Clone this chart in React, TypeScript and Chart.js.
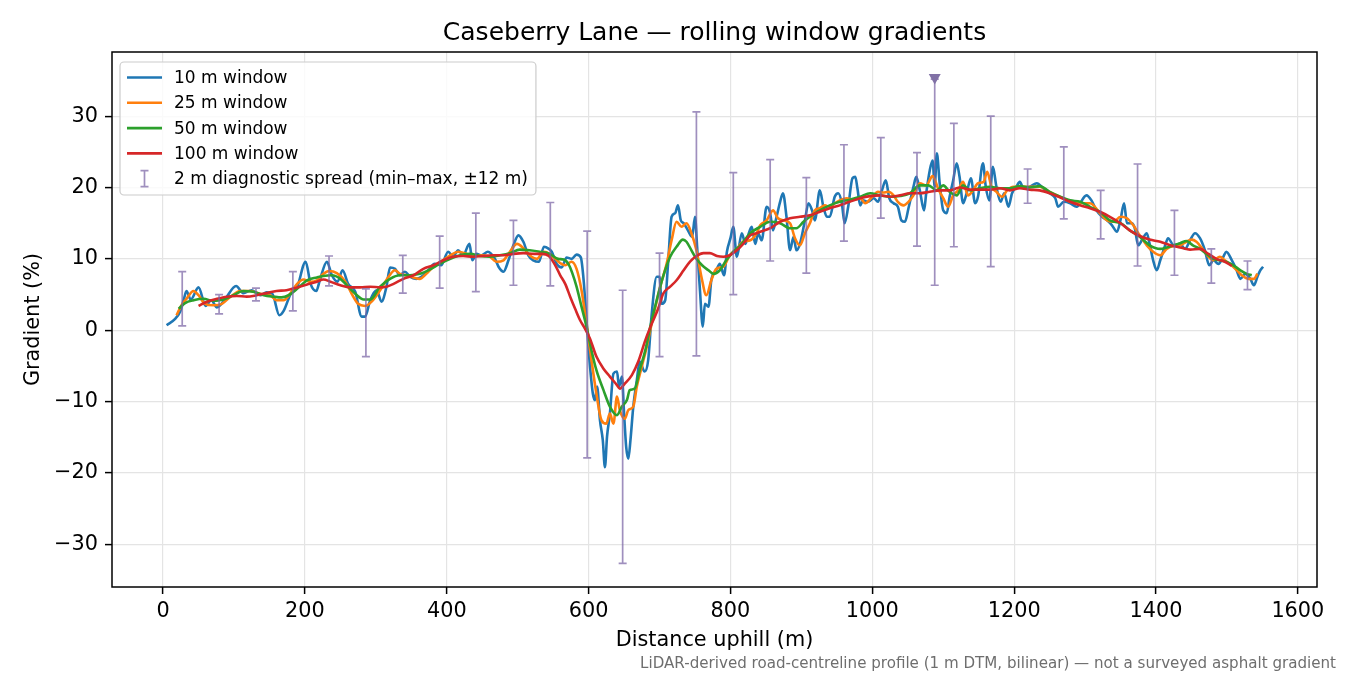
import React, { useEffect, useRef } from 'react';
import { Chart, registerables } from 'chart.js';

Chart.register(...registerables);

const FONT = '"DejaVu Sans", "Noto Sans", sans-serif';

// 10 m rolling window
const dist10 = [5, 17, 24, 29, 33, 39, 50, 60, 68, 76, 87, 103, 113, 125, 137, 146, 154, 164, 170, 180, 189, 201, 208, 216, 221, 231, 238, 246, 253, 261, 271, 280, 285, 292, 301, 308, 315, 320, 327, 334, 341, 348, 357, 367, 374, 383, 392, 402, 409, 416, 423, 432, 436, 442, 449, 458, 468, 473, 480, 487, 494, 501, 508, 515, 522, 530, 537, 544, 548, 555, 562, 569, 576, 583, 589, 593, 597, 602, 606, 609, 612, 616, 620, 623, 626, 630, 635, 640, 643, 647, 650, 653, 656, 659, 663, 668, 672, 679, 684, 689, 696, 700, 703, 708, 712, 717, 722, 726, 730, 734, 740, 746, 750, 753, 757, 761, 764, 769, 773, 780, 785, 791, 795, 800, 804, 809, 816, 821, 825, 830, 835, 839, 844, 851, 856, 860, 865, 870, 874, 879, 884, 889, 893, 898, 905, 910, 915, 919, 926, 931, 936, 940, 947, 952, 957, 961, 966, 972, 976, 979, 983, 987, 994, 1002, 1008, 1013, 1019, 1024, 1030, 1036, 1041, 1046, 1051, 1058, 1062, 1067, 1073, 1076, 1081, 1085, 1088, 1091, 1095, 1100, 1105, 1109, 1114, 1119, 1123, 1128, 1133, 1139, 1145, 1149, 1156, 1160, 1165, 1170, 1175, 1181, 1186, 1192, 1197, 1203, 1208, 1213, 1222, 1232, 1241, 1250, 1258, 1262, 1270, 1279, 1288, 1302, 1309, 1316, 1324, 1331, 1338, 1345, 1350, 1355, 1359, 1366, 1370, 1375, 1380, 1387, 1391, 1396, 1401, 1406, 1413, 1417, 1425, 1434, 1441, 1448, 1455, 1462, 1469, 1475, 1481, 1488, 1495, 1499, 1507, 1513, 1519, 1526, 1533, 1538, 1543, 1547, 1551];
const grad10 = [0.7, 1.6, 2.6, 4.2, 5.5, 4.3, 6.0, 3.4, 4.2, 3.2, 4.3, 6.2, 5.2, 5.6, 4.9, 5.3, 5.1, 2.1, 2.7, 5.1, 6.0, 9.6, 6.5, 5.5, 7.0, 9.6, 7.7, 6.8, 8.4, 6.5, 5.4, 1.9, 1.9, 4.2, 5.6, 4.0, 6.1, 8.8, 8.6, 7.7, 8.2, 7.5, 7.2, 7.7, 8.4, 9.3, 9.1, 11.0, 10.3, 11.2, 10.5, 12.1, 9.8, 10.7, 10.5, 11.0, 10.0, 8.9, 8.2, 9.8, 11.9, 13.3, 12.4, 10.5, 9.8, 9.6, 11.7, 11.4, 11.0, 9.3, 8.8, 10.2, 10.0, 10.6, 10.2, 7.0, 1.4, -5.1, -8.9, -9.8, -7.9, -12.6, -15.4, -19.2, -14.9, -11.7, -6.1, -5.8, -7.9, -6.5, -11.7, -16.4, -18.0, -15.4, -10.7, -7.0, -4.4, -5.8, -4.2, 2.3, 7.5, 7.5, 3.7, 4.2, 9.3, 15.9, 16.4, 17.5, 15.4, 15.0, 14.0, 13.1, 15.9, 11.7, 5.6, 0.5, 3.7, 3.3, 7.0, 8.4, 9.3, 7.7, 11.0, 12.9, 14.5, 10.3, 13.6, 12.1, 13.3, 14.5, 12.1, 13.6, 12.6, 17.3, 16.4, 14.0, 15.9, 18.0, 19.2, 15.9, 11.2, 13.1, 11.2, 12.1, 15.4, 17.8, 16.8, 15.4, 19.6, 17.3, 15.9, 15.9, 18.7, 19.2, 17.8, 15.0, 17.3, 21.3, 21.5, 19.9, 17.5, 18.2, 18.0, 18.5, 18.0, 19.4, 21.0, 18.5, 17.8, 17.3, 15.4, 15.2, 17.1, 20.1, 21.5, 19.6, 16.8, 19.2, 22.4, 23.8, 20.1, 24.8, 20.6, 16.8, 16.4, 18.7, 21.0, 23.4, 21.5, 17.8, 19.2, 21.3, 17.8, 18.7, 23.4, 20.1, 18.2, 22.9, 20.1, 18.0, 19.2, 17.3, 19.2, 20.1, 20.8, 19.9, 20.1, 20.6, 19.9, 19.2, 18.5, 17.3, 18.0, 17.8, 17.3, 18.9, 18.2, 16.8, 15.9, 15.4, 14.7, 13.8, 15.5, 17.8, 15.0, 15.0, 14.3, 11.9, 12.6, 13.6, 12.1, 9.8, 8.4, 9.8, 11.9, 12.9, 11.9, 12.1, 11.4, 12.6, 13.6, 12.9, 11.2, 9.1, 9.8, 9.3, 10.3, 11.0, 9.8, 8.6, 7.2, 7.9, 7.2, 6.3, 7.5, 8.4, 8.9];

// 25 m rolling window
const dist25 = [19, 26, 33, 43, 50, 59, 71, 83, 95, 109, 123, 137, 151, 160, 170, 179, 189, 198, 207, 217, 226, 234, 245, 257, 266, 275, 285, 294, 306, 318, 327, 334, 343, 353, 362, 371, 381, 392, 405, 416, 428, 437, 449, 461, 470, 480, 489, 499, 509, 517, 527, 537, 545, 553, 560, 567, 576, 583, 590, 597, 604, 611, 618, 625, 630, 635, 640, 644, 651, 656, 663, 668, 675, 682, 691, 701, 710, 717, 724, 731, 738, 745, 752, 759, 766, 773, 780, 790, 799, 809, 818, 828, 837, 842, 851, 860, 867, 875, 884, 891, 898, 905, 912, 919, 926, 933, 940, 947, 954, 964, 973, 983, 990, 999, 1008, 1015, 1023, 1030, 1036, 1044, 1051, 1058, 1067, 1076, 1085, 1093, 1100, 1107, 1114, 1121, 1128, 1135, 1142, 1149, 1157, 1162, 1168, 1175, 1183, 1190, 1199, 1208, 1222, 1236, 1250, 1265, 1279, 1293, 1307, 1321, 1331, 1340, 1350, 1359, 1368, 1377, 1387, 1396, 1406, 1415, 1425, 1434, 1443, 1450, 1457, 1467, 1474, 1481, 1490, 1497, 1504, 1514, 1521, 1530, 1538, 1543];
const grad25 = [2.1, 3.5, 4.4, 5.5, 4.9, 3.7, 3.5, 3.7, 4.7, 5.5, 5.5, 5.1, 4.9, 4.2, 4.2, 5.1, 6.5, 7.1, 6.8, 7.0, 7.9, 8.3, 8.0, 6.8, 5.1, 3.7, 3.4, 4.0, 5.6, 7.5, 8.4, 7.9, 7.7, 7.4, 7.2, 7.9, 8.9, 9.6, 10.5, 11.0, 10.7, 10.3, 10.5, 10.3, 9.6, 9.8, 11.0, 12.1, 11.4, 10.5, 10.0, 11.0, 10.7, 10.0, 9.4, 9.1, 9.6, 8.6, 5.6, 0.9, -4.2, -8.9, -12.6, -13.1, -11.7, -13.1, -9.3, -11.2, -12.4, -11.2, -10.7, -7.9, -5.1, -2.3, 1.9, 6.1, 9.3, 12.6, 15.2, 14.5, 15.0, 13.6, 11.2, 7.5, 4.9, 7.0, 8.6, 8.9, 10.5, 11.4, 12.4, 12.6, 13.6, 14.7, 15.4, 16.8, 15.7, 15.4, 15.0, 12.9, 11.9, 13.6, 15.0, 16.8, 17.1, 17.5, 17.3, 17.8, 18.2, 18.5, 18.3, 18.5, 17.8, 18.6, 19.4, 19.3, 19.4, 18.9, 18.0, 17.5, 18.0, 18.9, 20.6, 20.3, 21.6, 19.8, 18.5, 17.3, 18.9, 19.6, 20.8, 18.9, 19.6, 20.6, 20.8, 22.2, 20.1, 19.4, 18.7, 19.6, 20.1, 20.1, 20.1, 20.1, 19.4, 18.7, 18.0, 17.8, 17.8, 16.4, 15.4, 15.2, 15.9, 15.7, 14.7, 13.3, 11.9, 11.0, 10.5, 11.4, 11.8, 11.9, 12.4, 12.7, 12.4, 11.2, 10.3, 9.8, 10.3, 9.8, 9.3, 8.4, 7.7, 7.2, 7.2, 7.9];

// 50 m rolling window
const dist50 = [22, 31, 43, 57, 71, 85, 99, 113, 127, 142, 156, 167, 177, 189, 203, 217, 226, 238, 250, 259, 271, 283, 292, 306, 320, 334, 348, 362, 376, 390, 405, 419, 433, 447, 461, 475, 489, 503, 517, 531, 545, 557, 565, 572, 577, 583, 590, 597, 604, 611, 621, 630, 640, 647, 654, 658, 665, 672, 680, 687, 696, 705, 715, 724, 733, 738, 745, 752, 760, 769, 776, 785, 794, 804, 814, 828, 842, 856, 870, 884, 893, 903, 912, 926, 940, 954, 968, 983, 997, 1011, 1025, 1039, 1053, 1067, 1079, 1091, 1100, 1109, 1119, 1128, 1138, 1152, 1166, 1180, 1194, 1208, 1222, 1236, 1250, 1265, 1279, 1293, 1307, 1321, 1335, 1350, 1363, 1377, 1391, 1406, 1415, 1425, 1434, 1443, 1452, 1462, 1471, 1481, 1490, 1499, 1509, 1519, 1528, 1535];
const grad50 = [3.0, 3.8, 4.2, 4.4, 4.1, 4.3, 4.9, 5.5, 5.4, 4.9, 4.7, 4.6, 4.9, 5.8, 7.0, 7.4, 7.6, 7.7, 7.2, 6.3, 5.1, 4.3, 4.3, 6.1, 7.2, 7.7, 7.7, 7.9, 8.5, 9.3, 10.0, 10.5, 10.7, 10.4, 10.3, 10.5, 10.8, 11.3, 11.2, 11.0, 10.7, 10.0, 9.9, 9.2, 8.0, 6.1, 3.3, 0.5, -2.8, -5.6, -8.4, -10.7, -11.9, -10.7, -9.8, -8.4, -8.2, -5.6, -2.8, 0.5, 4.2, 7.5, 10.3, 11.7, 12.7, 12.4, 11.2, 10.0, 9.1, 8.4, 7.9, 8.4, 9.8, 11.0, 11.9, 13.6, 14.5, 15.2, 15.0, 14.3, 14.3, 15.2, 15.9, 16.8, 17.5, 18.0, 18.3, 18.7, 19.2, 18.9, 18.7, 18.8, 19.2, 20.3, 20.3, 19.6, 20.3, 19.4, 18.9, 20.3, 19.6, 19.9, 20.1, 19.9, 19.9, 20.2, 20.0, 20.2, 19.4, 18.7, 18.2, 18.0, 17.3, 16.6, 15.4, 15.0, 14.0, 13.1, 11.9, 11.4, 11.6, 11.9, 12.2, 12.5, 11.9, 11.4, 10.7, 10.0, 9.8, 9.6, 9.1, 8.4, 7.9, 7.7];

// 100 m rolling window
const dist100 = [50, 62, 76, 90, 104, 118, 132, 146, 160, 174, 189, 203, 217, 226, 236, 250, 264, 278, 292, 306, 315, 325, 339, 353, 367, 381, 395, 409, 423, 437, 451, 465, 480, 494, 508, 523, 534, 544, 553, 560, 567, 574, 581, 588, 595, 602, 611, 621, 630, 640, 644, 651, 661, 670, 680, 689, 698, 705, 715, 724, 734, 743, 752, 762, 771, 781, 790, 799, 809, 818, 828, 837, 842, 856, 870, 884, 898, 912, 926, 940, 954, 968, 983, 997, 1011, 1025, 1039, 1053, 1067, 1081, 1095, 1109, 1123, 1138, 1152, 1166, 1180, 1194, 1208, 1222, 1236, 1250, 1265, 1279, 1293, 1307, 1321, 1335, 1350, 1363, 1377, 1391, 1406, 1420, 1434, 1448, 1462, 1474, 1485, 1497, 1507];
const grad100 = [3.4, 4.0, 4.4, 4.7, 4.8, 4.7, 4.9, 5.2, 5.5, 5.6, 6.0, 6.4, 6.8, 7.1, 6.8, 6.3, 6.0, 6.0, 6.1, 6.0, 6.1, 6.5, 7.2, 7.7, 8.6, 9.1, 9.8, 10.3, 10.4, 10.3, 10.4, 10.5, 10.5, 10.7, 10.8, 10.7, 10.7, 10.4, 9.1, 7.7, 6.5, 4.7, 3.0, 1.4, 0.2, -1.2, -3.7, -5.4, -6.5, -7.7, -8.2, -7.5, -6.3, -4.4, -1.4, 0.9, 3.0, 5.1, 6.1, 7.0, 8.4, 9.6, 10.4, 10.8, 10.8, 10.4, 10.3, 10.5, 11.2, 12.1, 13.3, 13.6, 13.8, 14.3, 15.2, 15.7, 15.9, 16.1, 16.6, 17.1, 17.5, 18.0, 18.5, 18.8, 18.9, 18.7, 18.9, 19.2, 19.2, 19.4, 19.6, 19.6, 20.0, 19.7, 19.7, 19.7, 19.9, 19.6, 19.9, 19.7, 19.6, 19.2, 18.6, 18.0, 17.5, 17.1, 16.6, 15.9, 15.0, 14.0, 13.2, 12.7, 12.4, 11.9, 11.6, 11.3, 11.4, 10.7, 10.0, 9.6, 9.0];

// 2 m diagnostic spread (min-max within +-12 m)
const spreadDist = [27, 79, 131, 183, 234, 286, 338, 390, 441, 494, 546, 598, 648, 700, 752, 804, 856, 907, 960, 1012, 1063, 1088, 1115, 1167, 1219, 1270, 1322, 1374, 1426, 1478, 1529];
const spreadLow = [0.6, 2.3, 4.1, 2.7, 6.2, -3.7, 5.2, 5.9, 5.4, 6.3, 6.2, -17.9, -32.7, -3.7, -3.6, 5.0, 9.7, 8.0, 12.5, 15.7, 11.8, 6.3, 11.7, 8.9, 17.8, 15.6, 12.8, 9.0, 7.7, 6.6, 5.7];
const spreadHigh = [8.2, 5.0, 5.9, 8.2, 10.4, 5.8, 10.5, 13.2, 16.4, 15.4, 17.9, 13.9, 5.6, 10.8, 30.6, 22.1, 23.9, 21.4, 26.0, 27.0, 24.9, 35.2, 29.0, 30.0, 22.6, 25.7, 19.6, 23.3, 16.8, 11.4, 9.7];

// steepest 2 m reading
const peakDist = [1088];
const peakGrad = [35.2];

const xTicks = [0, 200, 400, 600, 800, 1000, 1200, 1400, 1600];
const yTicks = [-30, -20, -10, 0, 10, 20, 30];

const series = [
  { label: '10 m window', dist: dist10, grad: grad10, color: '#1f77b4' },
  { label: '25 m window', dist: dist25, grad: grad25, color: '#ff7f0e' },
  { label: '50 m window', dist: dist50, grad: grad50, color: '#2ca02c' },
  { label: '100 m window', dist: dist100, grad: grad100, color: '#d62728' },
];
const spreadLabel = '2 m diagnostic spread (min\u2013max, \u00b112 m)';
const SPREAD = 'rgba(122,100,165,0.72)';
const PEAK = '#8171a6';
const GRID = '#e4e4e4';

const fmt = (v: number) => (v < 0 ? '\u2212' + Math.abs(v) : String(v));

const overlay = {
  id: 'overlay',
  afterDatasetsDraw(chart: any) {
    const { ctx, scales } = chart;
    const x = scales.x;
    const y = scales.y;
    ctx.save();
    ctx.strokeStyle = SPREAD;
    ctx.lineWidth = 1.7;
    spreadDist.forEach((d, i) => {
      const px = x.getPixelForValue(d);
      const top = y.getPixelForValue(spreadHigh[i]);
      const bot = y.getPixelForValue(spreadLow[i]);
      ctx.beginPath();
      ctx.moveTo(px, top);
      ctx.lineTo(px, bot);
      ctx.moveTo(px - 4, top);
      ctx.lineTo(px + 4, top);
      ctx.moveTo(px - 4, bot);
      ctx.lineTo(px + 4, bot);
      ctx.stroke();
    });
    ctx.fillStyle = PEAK;
    peakDist.forEach((d, i) => {
      const px = x.getPixelForValue(d);
      const py = y.getPixelForValue(peakGrad[i]);
      ctx.beginPath();
      ctx.moveTo(px - 6, py - 5);
      ctx.lineTo(px + 6, py - 5);
      ctx.lineTo(px, py + 5.5);
      ctx.closePath();
      ctx.fill();
    });
    ctx.restore();
  },
  afterDraw(chart: any) {
    const { ctx, chartArea: a } = chart;
    ctx.save();
    // axes frame
    ctx.strokeStyle = '#000';
    ctx.lineWidth = 1.5;
    ctx.strokeRect(a.left, a.top, a.right - a.left, a.bottom - a.top);

    // legend
    ctx.font = `17px ${FONT}`;
    const labels = [...series.map((s) => s.label), spreadLabel];
    const textW = Math.max(...labels.map((l) => ctx.measureText(l).width));
    const bx = a.left + 8;
    const by = a.top + 10;
    const bw = 54 + textW + 8;
    const bh = 133;
    ctx.beginPath();
    if (ctx.roundRect) ctx.roundRect(bx, by, bw, bh, 4);
    else ctx.rect(bx, by, bw, bh);
    ctx.fillStyle = 'rgba(255,255,255,0.8)';
    ctx.fill();
    ctx.strokeStyle = '#cccccc';
    ctx.lineWidth = 1.2;
    ctx.stroke();
    ctx.textBaseline = 'middle';
    ctx.textAlign = 'left';
    labels.forEach((l, i) => {
      const cy = by + 15.5 + i * 25.3;
      if (i < series.length) {
        ctx.strokeStyle = series[i].color;
        ctx.lineWidth = 2.6;
        ctx.beginPath();
        ctx.moveTo(bx + 7, cy);
        ctx.lineTo(bx + 42, cy);
        ctx.stroke();
      } else {
        const cx = bx + 24.5;
        ctx.strokeStyle = SPREAD;
        ctx.lineWidth = 1.7;
        ctx.beginPath();
        ctx.moveTo(cx, cy - 8);
        ctx.lineTo(cx, cy + 8);
        ctx.moveTo(cx - 4, cy - 8);
        ctx.lineTo(cx + 4, cy - 8);
        ctx.moveTo(cx - 4, cy + 8);
        ctx.lineTo(cx + 4, cy + 8);
        ctx.stroke();
      }
      ctx.fillStyle = '#000';
      ctx.fillText(l, bx + 54, cy + 1);
    });

    // footnote
    ctx.font = `15.1px ${FONT}`;
    ctx.fillStyle = '#6e6e6e';
    ctx.textAlign = 'right';
    ctx.fillText(
      'LiDAR-derived road-centreline profile (1 m DTM, bilinear) \u2014 not a surveyed asphalt gradient',
      1336,
      664
    );
    ctx.restore();
  },
};

const App: React.FC = () => {
  const canvasRef = useRef<HTMLCanvasElement | null>(null);

  useEffect(() => {
    if (!canvasRef.current) return;
    const ctx = canvasRef.current.getContext('2d');
    if (!ctx) return;

    const chart = new Chart(ctx, {
      type: 'line',
      data: {
        datasets: series.map((s, i) => ({
          label: s.label,
          data: s.dist.map((d, j) => ({ x: d, y: s.grad[j] })),
          borderColor: s.color,
          backgroundColor: s.color,
          borderWidth: 2.6,
          pointRadius: 0,
          fill: false,
          cubicInterpolationMode: 'monotone' as const,
          order: series.length - i,
        })),
      },
      options: {
        animation: false,
        responsive: true,
        maintainAspectRatio: false,
        events: [],
        layout: { padding: { left: 0, right: 33, top: 0, bottom: 0 } },
        plugins: {
          legend: { display: false },
          tooltip: { enabled: false },
          title: {
            display: true,
            text: 'Caseberry Lane \u2014 rolling window gradients',
            color: '#000',
            fullSize: false,
            font: { family: FONT, size: 25, weight: 'normal' },
            padding: { top: 18, bottom: 4 },
          },
        },
        scales: {
          x: {
            type: 'linear',
            min: -72,
            max: 1627,
            afterBuildTicks: (s: any) => {
              s.ticks = xTicks.map((v) => ({ value: v }));
            },
            afterFit: (s: any) => {
              s.height = 88;
            },
            border: { display: false },
            grid: { color: GRID, lineWidth: 1.2, tickColor: '#000', tickLength: 7, tickWidth: 1.5 },
            ticks: {
              color: '#000',
              font: { family: FONT, size: 20.8 },
              padding: 5,
              maxRotation: 0,
              autoSkip: false,
              callback: (v: any) => fmt(Number(v)),
            },
            title: {
              display: true,
              text: 'Distance uphill (m)',
              color: '#000',
              font: { family: FONT, size: 20.8 },
              padding: { top: 0, bottom: 22 },
            },
          },
          y: {
            type: 'linear',
            min: -36,
            max: 39,
            afterBuildTicks: (s: any) => {
              s.ticks = yTicks.map((v) => ({ value: v }));
            },
            afterFit: (s: any) => {
              s.width = 112;
            },
            border: { display: false },
            grid: { color: GRID, lineWidth: 1.2, tickColor: '#000', tickLength: 7, tickWidth: 1.5 },
            ticks: {
              color: '#000',
              font: { family: FONT, size: 20.8 },
              padding: 7,
              autoSkip: false,
              callback: (v: any) => fmt(Number(v)),
            },
            title: {
              display: true,
              text: 'Gradient (%)',
              color: '#000',
              font: { family: FONT, size: 20.8 },
              padding: { top: 21, bottom: 0 },
            },
          },
        },
      },
      plugins: [overlay],
    });

    return () => {
      chart.destroy();
    };
  }, []);

  return (
    <div style={{ position: 'fixed', left: 0, top: 0, width: 1350, height: 675, background: '#fff' }}>
      <canvas ref={canvasRef}></canvas>
    </div>
  );
};

export default App;
